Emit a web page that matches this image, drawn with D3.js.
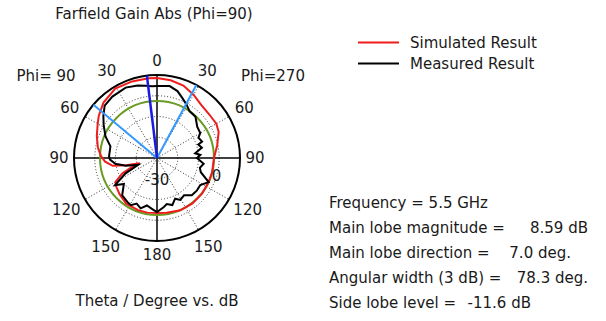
<!DOCTYPE html>
<html>
<head>
	<title>farfield-polar</title>
	<script src="https://d3js.org/d3.v7.min.js"></script>
	<style>
		body { margin: 0; background: #fff; }
		text { font-family: "DejaVu Sans", Verdana, sans-serif; fill: #1a1a1a; font-size: 15px; }
	</style>
</head>
<body>
	<svg width="606" height="321"></svg>
	<script type="text/javascript">
		// angles in degrees: positive = Phi=270 side (right), negative = Phi=90 side (left)
		var simAngles = [0, 10, 20, 30, 40, 50, 60, 67, 78, 90, 104, 115, 128, 142, 156, 170, 180,
			-170, -160, -146, -134, -125, -120, -114, -110, -107, -103, -100, -94, -88, -80, -70, -60, -54, -44, -31, -18, -6];
		var simGain = [12.8, 12.1, 10.7, 7.8, 4.9, 4.2, 4.5, 3.4, -0.5, -3.8, -3.9, -3.8, -3.5, -3.4, -3.6, -4.8, -5.2,
			-4.9, -4.9, -5.2, -7.4, -9.0, -10.3, -17.5, -25.5, -32.0, -21.9, -12.5, -7.4, -4.5, -1.6, 1.3, 4.5, 7.0, 10.7, 13.6, 13.2, 13.0];

		var measAngles = [0, 10, 17, 23, 29, 35, 43, 52, 60, 64, 70, 72, 77, 83, 86, 90, 97, 103, 108, 115, 122, 129, 137, 144, 151, 156, 162, 168, 172, 180,
			-176, -168, -162, -156, -151, -146, -137, -128, -123, -116, -110, -104, -98, -92, -88, -76, -67, -58, -52, -45, -36, -24, -15, -9, -4];
		var measGain = [7.0, 7.8, 5.6, 2.0, -0.9, -3.8, -4.2, -8.1, -8.9, -11.7, -10.3, -13.6, -11.7, -17.2, -13.6, -16.1, -11.0, -13.2, -11.7, -3.8, -8.1, -7.8, -8.1, -11.7, -10.3, -12.8, -9.2, -11.0, -9.2, -6.0,
			-7.4, -9.9, -6.7, -8.9, -6.0, -6.7, -8.1, -14.6, -8.9, -19.7, -30.5, -21.9, -14.6, -11.0, -10.3, -10.3, -4.5, 0.5, 4.2, 8.5, 9.9, 10.7, 9.2, 7.8, 7.0];

		var mainLobeDir = -7.0;
		var beamEdges = [-50, 28.3];
		var greenLevel = -3.8;

		var ringTicks = [-30, -15, 0];
		var radialLabels = ['-30', '0'];
		var angleTicks = [0, 30, 60, 90, 120, 150, 180, -30, -60, -90, -120, -150];

		var legendNames = ['Simulated Result', 'Measured Result'];
		var infoLabels = ['Frequency = 5.5 GHz', 'Main lobe magnitude =', 'Main lobe direction =', 'Angular width (3 dB) =', 'Side lobe level ='];
		var infoValues = ['', '8.59 dB', '7.0 deg.', '78.3 deg.', '-11.6 dB'];

		var cx = 157, cy = 158, R = 83;
		var svg = d3.select('svg');
		var r = d3.scaleLinear().domain([-45, 15]).range([0, R]);
		var rad = d => d * Math.PI / 180;

		var g = svg.append('g').attr('transform', 'translate(' + cx + ',' + cy + ')');

		// dotted rings and spokes
		g.selectAll('.ring').data(ringTicks).enter().append('circle')
			.attr('r', d => r(d)).attr('fill', 'none')
			.attr('stroke', '#333').attr('stroke-width', 1).attr('stroke-dasharray', '1,2');
		g.selectAll('.spoke').data(angleTicks.filter(a => a % 90 != 0)).enter().append('line')
			.attr('x1', 0).attr('y1', 0)
			.attr('x2', d => R * Math.sin(rad(d))).attr('y2', d => -R * Math.cos(rad(d)))
			.attr('stroke', '#333').attr('stroke-width', 1).attr('stroke-dasharray', '1,2');
		// solid axes
		g.append('line').attr('x1', -R).attr('x2', R).attr('y1', 0).attr('y2', 0).attr('stroke', '#000').attr('stroke-width', 1.5);
		g.append('line').attr('y1', -R).attr('y2', R).attr('x1', 0).attr('x2', 0).attr('stroke', '#000').attr('stroke-width', 1.5);
		g.append('circle').attr('r', R).attr('fill', 'none').attr('stroke', '#000').attr('stroke-width', 2);

		// green reference circle
		g.append('circle').attr('r', r(greenLevel)).attr('fill', 'none').attr('stroke', '#6a9b23').attr('stroke-width', 2);

		function series(angles, vals) {
			return angles.map((a, i) => ({ a: a, v: vals[i] }))
				.sort((p, q) => ((p.a + 360) % 360) - ((q.a + 360) % 360));
		}
		var line = d3.lineRadial()
			.angle(d => rad(d.a))
			.radius(d => r(d.v))
			.curve(d3.curveLinearClosed);

		g.append('path').datum(series(simAngles, simGain))
			.attr('d', line).attr('fill', 'none').attr('stroke', '#ee1c1c').attr('stroke-width', 2);
		g.append('path').datum(series(measAngles, measGain))
			.attr('d', line).attr('fill', 'none').attr('stroke', '#000').attr('stroke-width', 2);

		// beam lines
		g.selectAll('.beam').data(beamEdges).enter().append('line')
			.attr('x1', 0).attr('y1', 0)
			.attr('x2', d => R * Math.sin(rad(d))).attr('y2', d => -R * Math.cos(rad(d)))
			.attr('stroke', '#3399ff').attr('stroke-width', 2);
		g.append('line')
			.attr('x1', 0).attr('y1', 0)
			.attr('x2', R * Math.sin(rad(mainLobeDir))).attr('y2', -R * Math.cos(rad(mainLobeDir)))
			.attr('stroke', '#1a1ae0').attr('stroke-width', 2.5);

		// angle labels
		function labelR(d) {
			var w = String(Math.abs(d)).length * 9;
			return 89 + 0.5 * w * Math.abs(Math.sin(rad(d))) + 8 * Math.abs(Math.cos(rad(d)));
		}
		g.selectAll('.alab').data(angleTicks).enter().append('text')
			.attr('x', d => labelR(d) * Math.sin(rad(d)))
			.attr('y', d => -labelR(d) * Math.cos(rad(d)) + 5)
			.attr('text-anchor', 'middle')
			.text(d => Math.abs(d));

		// radial labels
		g.append('text').attr('x', 0).attr('y', r(-30) + 6).attr('text-anchor', 'middle').text(radialLabels[0]);
		g.append('text').attr('x', r(0) * Math.sin(rad(107))).attr('y', -r(0) * Math.cos(rad(107)) + 5)
			.attr('text-anchor', 'middle').text(radialLabels[1]);

		svg.append('text').attr('x', 46).attr('y', 81).attr('text-anchor', 'middle').text('Phi= 90');
		svg.append('text').attr('x', 273).attr('y', 81).attr('text-anchor', 'middle').text('Phi=270');

		svg.append('text').attr('x', 154).attr('y', 19).attr('text-anchor', 'middle').text('Farfield Gain Abs (Phi=90)');
		svg.append('text').attr('x', 157).attr('y', 306).attr('text-anchor', 'middle').text('Theta / Degree vs. dB');

		// legend
		var legColors = ['#ee1c1c', '#000'];
		var leg = svg.selectAll('.leg').data(legendNames).enter().append('g')
			.attr('transform', (d, i) => 'translate(358,' + (42.5 + i * 21) + ')');
		leg.append('line').attr('x1', 0).attr('x2', 41).attr('stroke', (d, i) => legColors[i]).attr('stroke-width', 2);
		leg.append('text').attr('x', 52).attr('y', 5.5).text(d => d);

		// info block, values right-aligned where the original ends them
		var valueEnd = [0, 588, 571, 588, 531];
		infoLabels.forEach((t, i) => {
			svg.append('text').attr('x', 329).attr('y', 208 + i * 25).text(t);
			if (infoValues[i]) svg.append('text').attr('x', valueEnd[i]).attr('y', 208 + i * 25)
				.attr('text-anchor', 'end').text(infoValues[i]);
		});
	</script>
</body>
</html>
